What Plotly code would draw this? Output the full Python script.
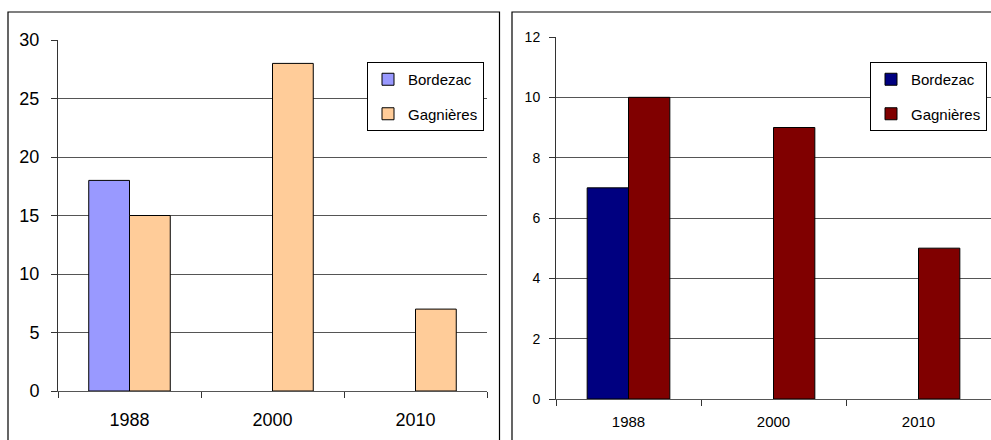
import plotly.graph_objects as go

W, H = 991, 440

years = ["1988", "2000", "2010"]
left_bordezac = [18, None, None]
left_gagnieres = [15, 28, 7]
right_bordezac = [7, None, None]
right_gagnieres = [10, 9, 5]
left_yticks = [0, 5, 10, 15, 20, 25, 30]
right_yticks = [0, 2, 4, 6, 8, 10, 12]

FONT = "Liberation Sans, Arial, sans-serif"

def px(x):
    return x / W

def py(y):
    return 1 - y / H

fig = go.Figure()
line = dict(color="#000000", width=1)
fig.add_trace(go.Bar(x=years, y=left_bordezac, name="Bordezac", marker=dict(color="#9999FF", line=line),
                     xaxis="x", yaxis="y", legend="legend", legendgroup="a"))
fig.add_trace(go.Bar(x=years, y=left_gagnieres, name="Gagnières", marker=dict(color="#FFCC99", line=line),
                     xaxis="x", yaxis="y", legend="legend", legendgroup="b"))
fig.add_trace(go.Bar(x=years, y=right_bordezac, name="Bordezac", marker=dict(color="#000080", line=line),
                     xaxis="x2", yaxis="y2", legend="legend2", legendgroup="c"))
fig.add_trace(go.Bar(x=years, y=right_gagnieres, name="Gagnières", marker=dict(color="#800000", line=line),
                     xaxis="x2", yaxis="y2", legend="legend2", legendgroup="d"))

def xaxis(domain, anchor, size, standoff):
    return dict(domain=domain, anchor=anchor, type="category", tickson="boundaries",
                ticks="outside", ticklen=6, tickcolor="#333", showline=True, linecolor="#555",
                linewidth=1, showgrid=False, tickfont=dict(family=FONT, size=size, color="#000"),
                ticklabelstandoff=standoff, fixedrange=True, automargin=False)

def yaxis(domain, anchor, rng, vals, size, standoff):
    return dict(domain=domain, anchor=anchor, range=rng, tickvals=vals, ticks="outside", ticklen=6,
                tickcolor="#333", showline=True, linecolor="#333", linewidth=1, showgrid=True,
                gridcolor="#555", gridwidth=1, zeroline=False,
                tickfont=dict(family=FONT, size=size, color="#000"), ticklabelstandoff=standoff,
                fixedrange=True, automargin=False)

legend_common = dict(xanchor="left", yanchor="top", bgcolor="white", bordercolor="#000",
                     borderwidth=1, font=dict(family=FONT, size=15, color="#000"),
                     tracegroupgap=12, traceorder="grouped", itemclick=False)

fig.update_layout(
    width=W, height=H, margin=dict(l=0, r=0, t=0, b=0, pad=0, autoexpand=False),
    paper_bgcolor="white", plot_bgcolor="white",
    barmode="group", bargap=0.43, bargroupgap=0,
    xaxis=xaxis([px(58), px(487)], "y", 18, 12),
    yaxis=yaxis([py(391), py(40)], "x", [0, 30], left_yticks, 18, 8),
    xaxis2=xaxis([px(556), 1.0], "y2", 15, 9),
    yaxis2=yaxis([py(399), py(37)], "x2", [0, 12], right_yticks, 14, 6),
    legend=dict(x=px(367), y=py(62), **legend_common),
    legend2=dict(x=px(870), y=py(62), **legend_common),
    shapes=[
        dict(type="rect", xref="paper", yref="paper", x0=px(8), x1=px(499.5), y0=py(480), y1=py(12),
             line=dict(color="#000", width=1.2), layer="above"),
        dict(type="rect", xref="paper", yref="paper", x0=px(512), x1=px(1020), y0=py(480), y1=py(12),
             line=dict(color="#000", width=1.2), layer="above"),
    ],
)

fig.write_html("out.html")
